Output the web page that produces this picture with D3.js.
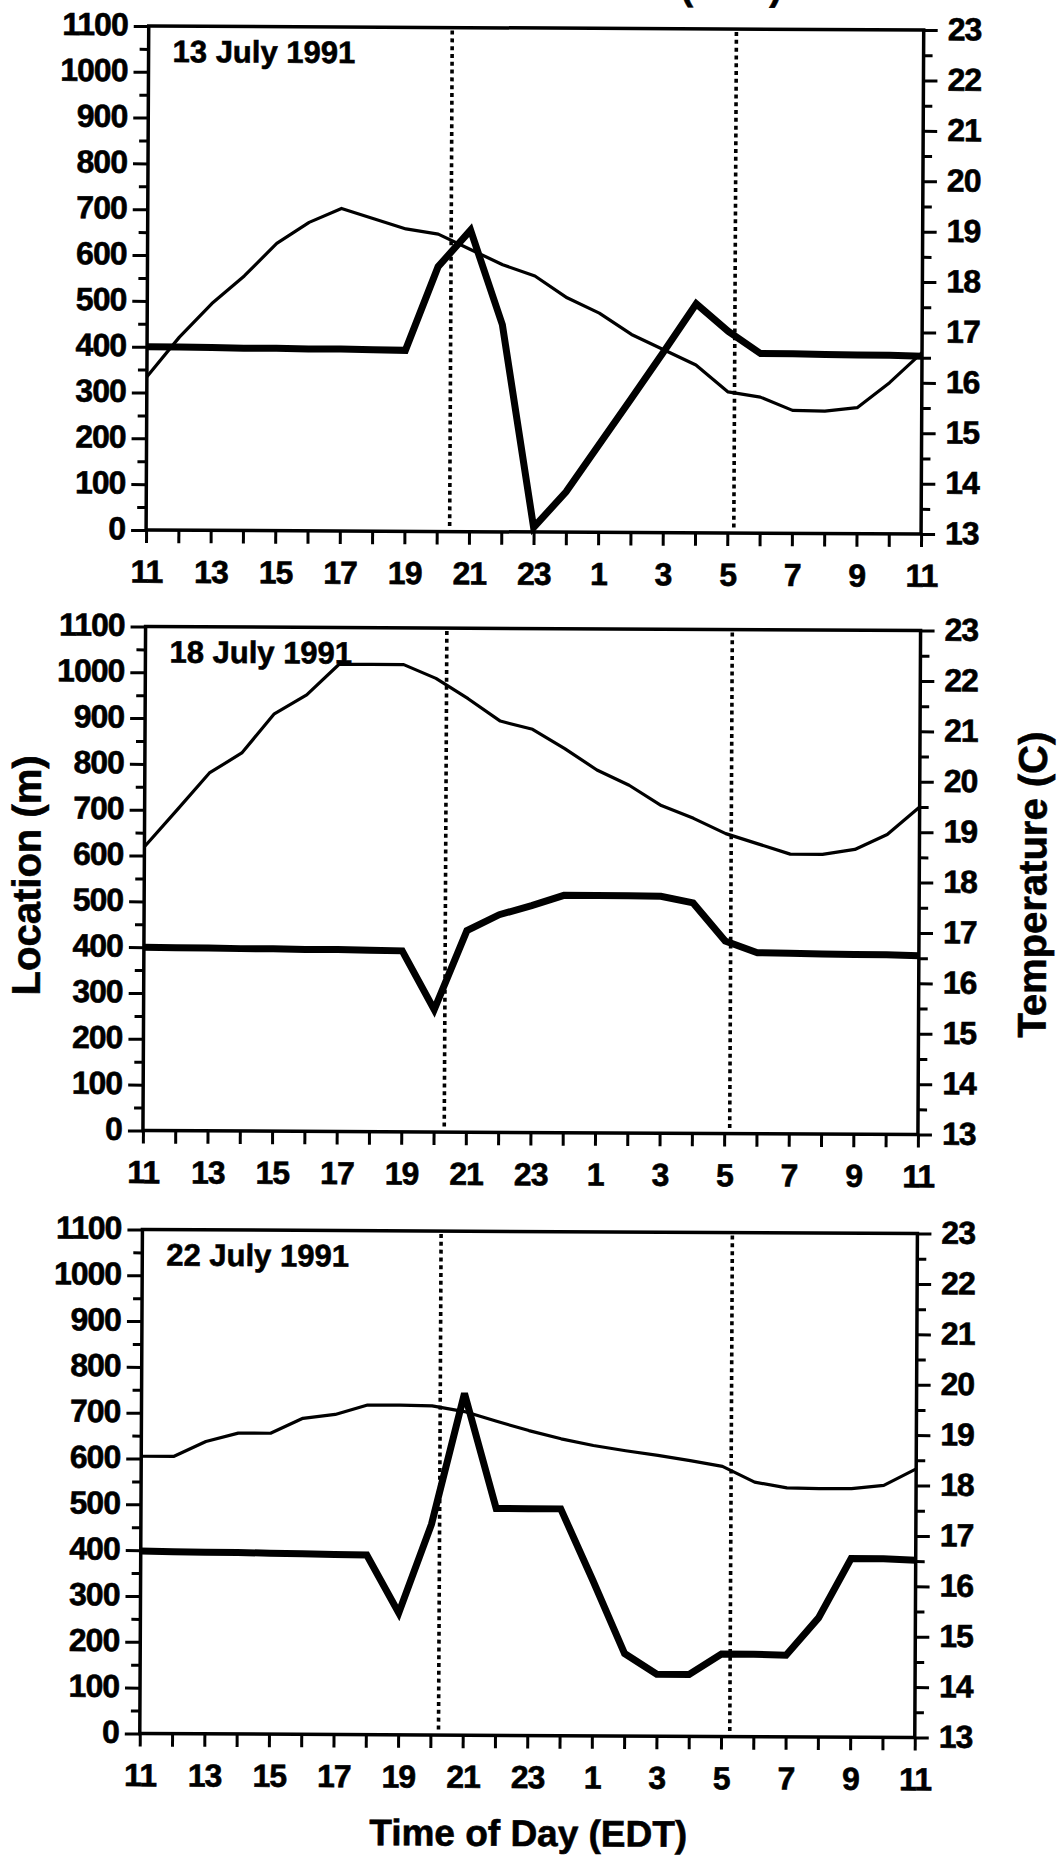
<!DOCTYPE html>
<html><head><meta charset="utf-8">
<script src="https://cdn.jsdelivr.net/npm/d3@7"></script>
<style>
html,body{margin:0;padding:0;background:#fff;}
svg{display:block;}
text{font-family:"Liberation Sans", Arial, Helvetica, sans-serif; font-weight:bold; fill:#000; stroke:#000; stroke-width:0.6px;}
.tick text{font-size:32px; letter-spacing:-1px;}
</style></head><body>
<svg id="chart" width="1063" height="1861"></svg>
<script>
// ---- data ----
const hours = [11,12,13,14,15,16,17,18,19,20,21,22,23,0,1,2,3,4,5,6,7,8,9,10,11];
const xTickLabels = ["11","13","15","17","19","21","23","1","3","5","7","9","11"];
const locTickValues = [0,100,200,300,400,500,600,700,800,900,1000,1100];
const tempTickValues = [13,14,15,16,17,18,19,20,21,22,23];
const panelTitles = ["13 July 1991","18 July 1991","22 July 1991"];

const location13 = [400,400,399,398,398,397,397,396,395,578,658,452,10,88,190,292,395,500,440,392,392,391,390,390,388];
const temp13 = [16.04,16.83,17.5,18.05,18.7,19.12,19.4,19.2,19.0,18.9,18.6,18.3,18.08,17.65,17.35,16.93,16.63,16.33,15.8,15.7,15.44,15.43,15.5,16.0,16.6];

const location18 = [400,399,399,398,398,397,397,396,395,267,440,475,495,518,518,518,517,503,420,395,394,393,392,392,390];
const temp18 = [18.63,19.36,20.1,20.5,21.28,21.66,22.27,22.27,22.27,22.0,21.6,21.16,21.0,20.62,20.2,19.9,19.5,19.25,18.95,18.75,18.55,18.55,18.65,18.95,19.5];

const location22 = [398,397,396,396,395,394,393,392,266,460,746,495,495,495,340,180,135,135,180,180,178,260,390,390,387];
const temp22 = [18.5,18.5,18.8,18.97,18.97,19.27,19.35,19.54,19.54,19.53,19.42,19.23,19.05,18.89,18.76,18.66,18.57,18.47,18.36,18.05,17.94,17.93,17.93,18.0,18.33];

const sunsetHour = [20.4, 20.33, 20.25];
const sunriseHour = [5.2, 5.17, 5.27];

const locationSeries = [location13, location18, location22];
const tempSeries = [temp13, temp18, temp22];

// ---- layout ----
const left = 144, right = 919;
const panelTops = [28, 628.5, 1231.5];
const panelH = 504;

const svg = d3.select("#chart");
const root = svg.append("g").attr("transform", "rotate(0.3,531,930)");

const x = d3.scaleLinear().domain([0, 24]).range([left, right]);
const hourToX = h => x(h >= 11 ? h - 11 : h + 13);

panelTitles.forEach((title, p) => {
  const top = panelTops[p], bottom = top + panelH;
  const yLoc = d3.scaleLinear().domain([0, 1100]).range([bottom, top]);
  const yTemp = d3.scaleLinear().domain([13, 23]).range([bottom, top]);
  const g = root.append("g");

  // dotted sunset / sunrise lines
  [sunsetHour[p], sunriseHour[p]].forEach(h => {
    g.append("line")
      .attr("x1", hourToX(h)).attr("x2", hourToX(h))
      .attr("y1", top + 3).attr("y2", bottom - 3)
      .attr("stroke", "#000").attr("stroke-width", 3.6)
      .attr("stroke-dasharray", "4,3.8");
  });

  // data lines
  const lineLoc = d3.line().x((d, i) => x(i)).y(d => yLoc(d));
  const lineTemp = d3.line().x((d, i) => x(i)).y(d => yTemp(d));
  g.append("path").datum(tempSeries[p]).attr("d", lineTemp)
    .attr("fill", "none").attr("stroke", "#000").attr("stroke-width", 3.2)
    .attr("stroke-linejoin", "round");
  g.append("path").datum(locationSeries[p]).attr("d", lineLoc)
    .attr("fill", "none").attr("stroke", "#000").attr("stroke-width", 7)
    .attr("stroke-linejoin", "miter").attr("stroke-miterlimit", 3);

  // left axis
  const la = g.append("g").attr("transform", `translate(${left},0)`)
    .call(d3.axisLeft(yLoc).tickValues(locTickValues).tickSize(15).tickSizeOuter(0).tickPadding(6).tickFormat(d3.format("d")));
  const laMinor = g.append("g").attr("transform", `translate(${left},0)`)
    .call(d3.axisLeft(yLoc).tickValues(locTickValues.slice(0, -1).map(v => v + 50)).tickSize(9).tickSizeOuter(0).tickFormat(""));
  // right axis
  const ra = g.append("g").attr("transform", `translate(${right},0)`)
    .call(d3.axisRight(yTemp).tickValues(tempTickValues).tickSize(14).tickSizeOuter(0).tickPadding(10).tickFormat(d3.format("d")));
  const raMinor = g.append("g").attr("transform", `translate(${right},0)`)
    .call(d3.axisRight(yTemp).tickValues(tempTickValues.slice(0, -1).map(v => v + 0.5)).tickSize(9).tickSizeOuter(0).tickFormat(""));
  // bottom axis
  const ba = g.append("g").attr("transform", `translate(0,${bottom})`)
    .call(d3.axisBottom(x).tickValues(d3.range(0, 25)).tickSize(13).tickSizeOuter(0).tickPadding(17)
      .tickFormat((d, i) => i % 2 === 0 ? xTickLabels[i / 2] : ""));

  [la, laMinor, ra, raMinor, ba].forEach(a => {
    a.select(".domain").remove();
    a.selectAll(".tick line").attr("stroke", "#000").attr("stroke-width", 3);
  });
  la.selectAll(".tick text").attr("dy", "0.28em");
  ra.selectAll(".tick text").attr("dy", "0.3em");

  // frame
  g.append("rect").attr("x", left).attr("y", top).attr("width", right - left).attr("height", panelH)
    .attr("fill", "none").attr("stroke", "#000").attr("stroke-width", 3.5);

  // panel title
  g.append("text").attr("x", left + 24).attr("y", top + 36)
    .style("font-size", "31px").text(title);
});

// axis titles
root.append("text").attr("transform", "translate(40,878) rotate(-90)")
  .attr("text-anchor", "middle").style("font-size", "40px").text("Location (m)");
root.append("text").attr("transform", "translate(1046,882) rotate(-90)")
  .attr("text-anchor", "middle").style("font-size", "40px").text("Temperature (C)");
root.append("text").attr("x", 533).attr("y", 1846)
  .attr("text-anchor", "middle").style("font-size", "37px").text("Time of Day (EDT)");
// clipped fragment of a caption above the figure (only its lower edge is in frame, as in the reference)
root.append("text").attr("x", 777).attr("y", -1.5)
  .attr("text-anchor", "end").style("font-size", "38px").text("(EDT)");
</script>
</body></html>
